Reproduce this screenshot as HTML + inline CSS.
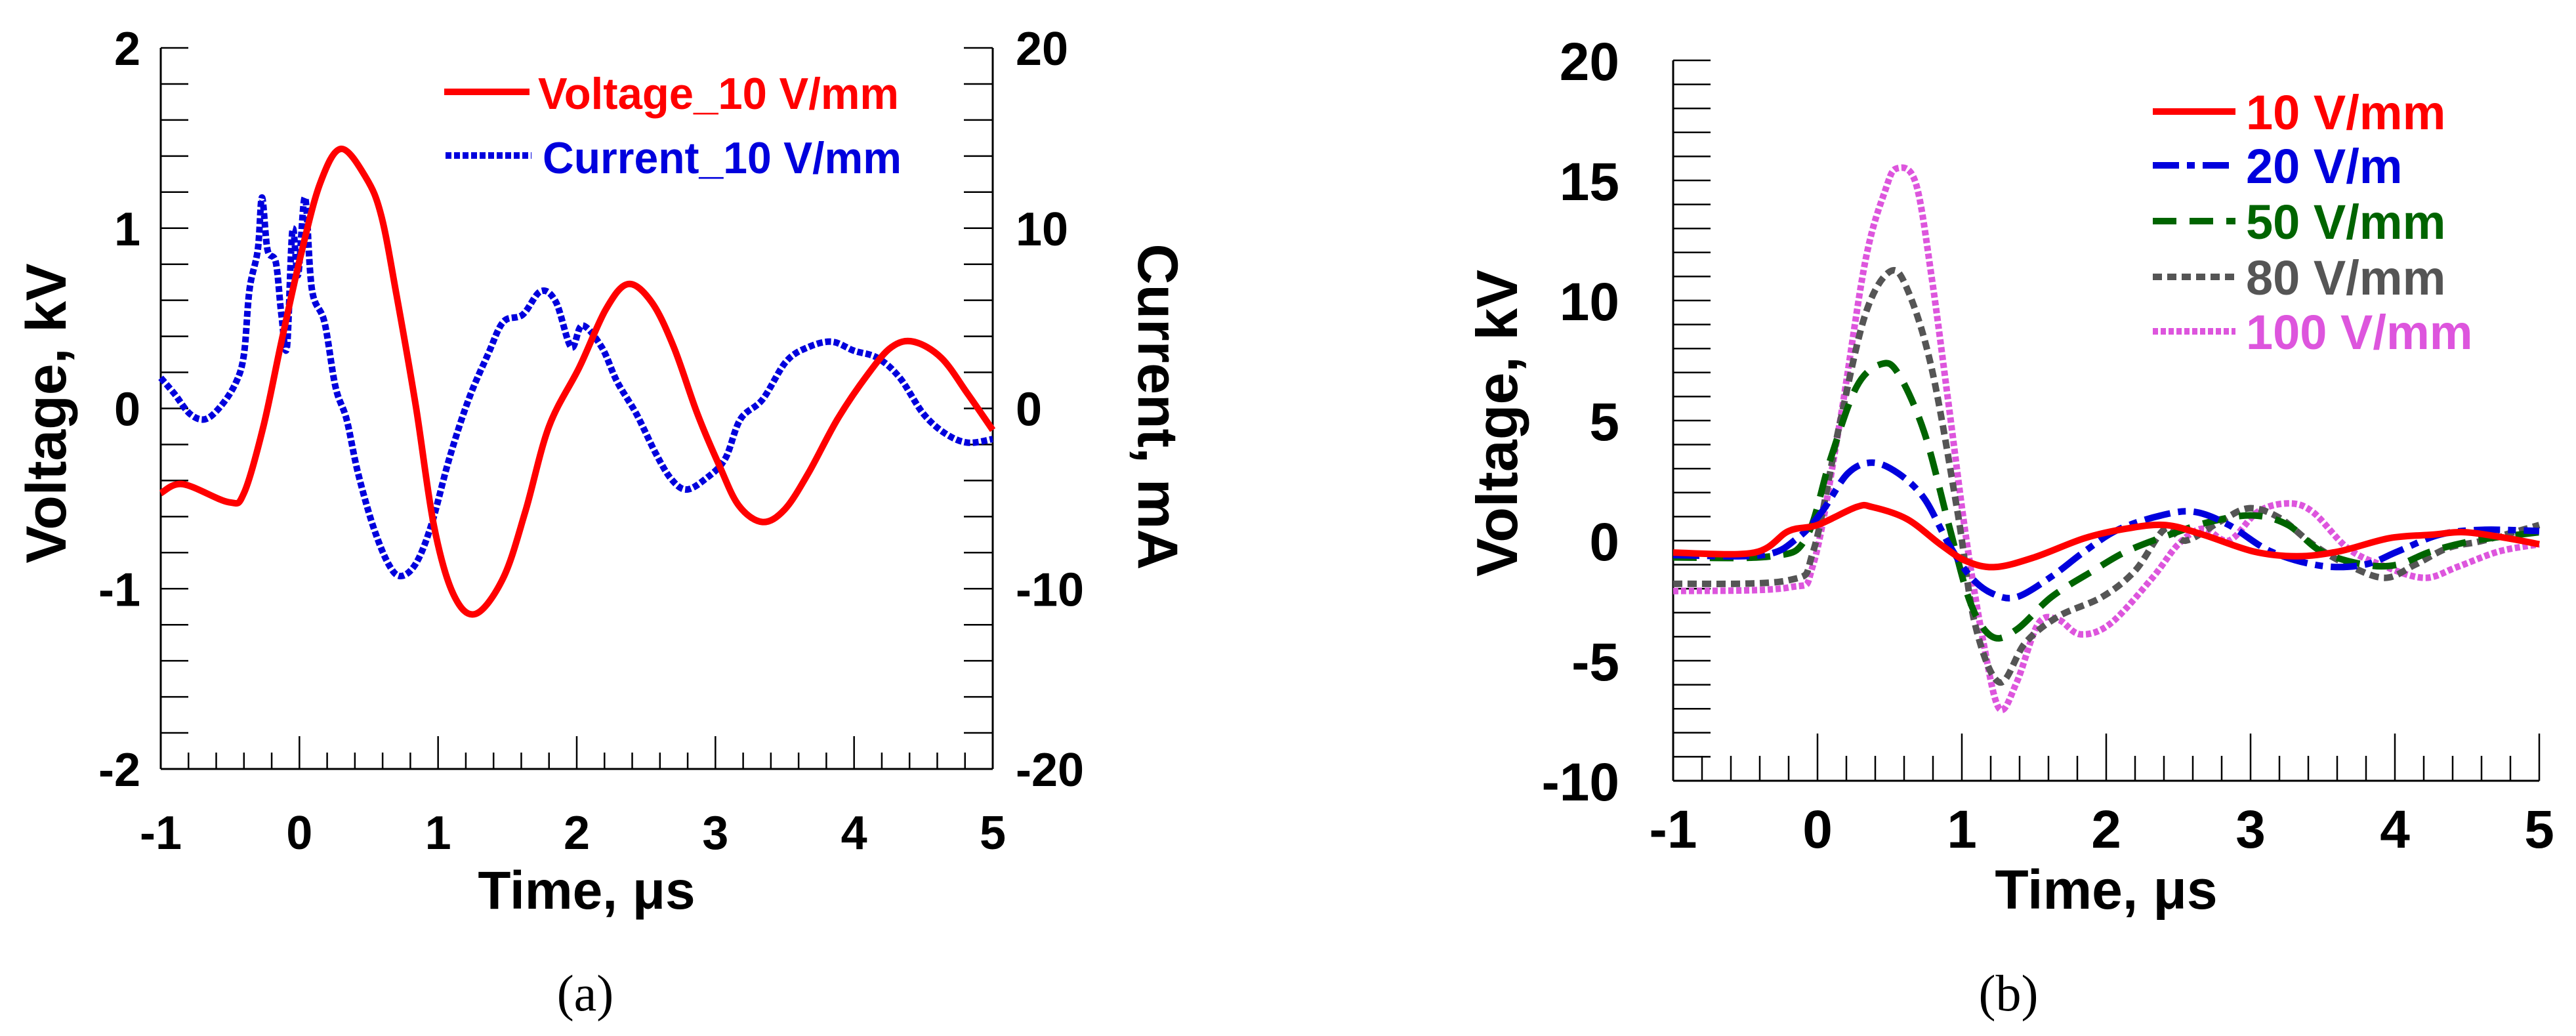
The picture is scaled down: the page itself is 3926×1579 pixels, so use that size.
<!DOCTYPE html>
<html><head><meta charset="utf-8"><style>
html,body{margin:0;padding:0;background:#fff;}
svg{display:block;font-family:"Liberation Sans",Arial,sans-serif;}
</style></head><body>
<svg id="fig" width="3926" height="1579" viewBox="0 0 3926 1579" xmlns="http://www.w3.org/2000/svg">
<g id="pa"></g>
<g id="pb"></g>
</svg>
<script>
// ---- Panel (a) data ----
const aVoltT=[-1,-0.84,-0.51,-0.40,-0.26,-0.13,0.01,0.15,0.30,0.48,0.59,0.70,0.84,0.97,1.11,1.27,1.47,1.63,1.80,2.02,2.21,2.37,2.54,2.70,2.87,3.03,3.17,3.34,3.50,3.67,3.88,4.10,4.27,4.43,4.63,4.82,5.0];
const aVoltV=[-0.47,-0.42,-0.52,-0.47,-0.10,0.37,0.85,1.25,1.44,1.28,1.07,0.63,0.01,-0.65,-1.03,-1.14,-0.94,-0.57,-0.10,0.23,0.55,0.69,0.59,0.34,-0.03,-0.32,-0.54,-0.63,-0.56,-0.36,-0.06,0.19,0.34,0.37,0.28,0.08,-0.12];
const aCurT=[-1,-0.90,-0.79,-0.68,-0.57,-0.46,-0.40,-0.36,-0.30,-0.27,-0.23,-0.17,-0.13,-0.09,-0.05,-0.01,0.04,0.09,0.18,0.26,0.34,0.42,0.53,0.64,0.73,0.84,0.95,1.08,1.22,1.36,1.47,1.61,1.74,1.85,1.96,2.04,2.18,2.29,2.43,2.57,2.68,2.79,2.93,3.07,3.18,3.34,3.51,3.67,3.84,4.00,4.17,4.33,4.50,4.66,4.82,5.0];
const aCurI=[1.7,0.8,-0.3,-0.6,0.1,1.4,3.0,6.6,8.8,11.7,8.8,8.1,5.2,3.4,9.9,7.4,11.7,6.6,4.8,1.2,-0.6,-3.5,-6.5,-8.6,-9.3,-8.6,-6.5,-2.8,0.5,3.0,4.8,5.2,6.5,5.9,3.4,4.6,3.4,1.5,-0.3,-2.5,-3.9,-4.5,-3.9,-2.8,-0.6,0.5,2.6,3.4,3.7,3.2,2.8,1.7,-0.3,-1.4,-1.9,-1.7];
const aXTicks=[-1,0,1,2,3,4,5];
const aYTicks=[2,1,0,-1,-2];
const aY2Ticks=[20,10,0,-10,-20];
// ---- Panel (b) data ----
const bCat=["10 V/mm","20 V/m","50 V/mm","80 V/mm","100 V/mm"];
const b10T=[-1,-0.44,-0.2,0,0.27,0.38,0.62,0.85,1.03,1.23,1.5,1.85,2.14,2.41,2.67,3.02,3.32,3.61,3.96,4.26,4.49,4.78,5];
const b10V=[-0.5,-0.5,0.4,0.65,1.4,1.4,0.9,-0.15,-0.85,-1.1,-0.7,0.1,0.5,0.65,0.25,-0.45,-0.65,-0.45,0.1,0.25,0.35,0.1,-0.15];
const b20T=[-1,-0.38,-0.14,0.03,0.21,0.38,0.56,0.74,0.91,1.06,1.21,1.38,1.62,1.85,2.08,2.38,2.61,2.85,3.14,3.49,3.79,4.02,4.31,4.61,5];
const b20V=[-0.6,-0.6,0.1,1.2,2.8,3.25,2.8,1.75,-0.15,-1.5,-2.2,-2.35,-1.5,-0.45,0.45,1.05,1.2,0.65,-0.45,-1.05,-1.0,-0.45,0.25,0.45,0.4];
const b50T=[-1,-0.32,-0.08,0.09,0.27,0.44,0.56,0.74,0.91,1.06,1.21,1.38,1.62,1.91,2.14,2.44,2.73,3.02,3.26,3.49,3.79,4.02,4.25,4.55,5];
const b50V=[-0.7,-0.65,0.1,3.4,6.4,7.35,6.95,4.5,0.65,-2.6,-4.0,-3.7,-2.35,-1.25,-0.45,0.25,0.8,1.05,0.65,-0.45,-1.0,-1.0,-0.45,0,0.35];
const b80T=[-1,-0.2,-0.03,0.15,0.33,0.5,0.62,0.79,0.97,1.09,1.26,1.44,1.67,1.97,2.2,2.41,2.55,2.79,2.99,3.2,3.43,3.67,3.93,4.14,4.37,4.61,5];
const b80V=[-1.8,-1.65,-0.45,4.75,9.4,11.2,10.5,7.2,1.2,-3.45,-5.9,-4.25,-3.15,-2.35,-1.25,0.5,0,0.8,1.35,0.95,-0.15,-1.0,-1.55,-1.0,-0.3,0,0.65];
const b100T=[-1,-0.2,-0.03,0.15,0.33,0.47,0.55,0.68,0.79,0.91,1.03,1.15,1.26,1.38,1.53,1.67,1.82,2.03,2.32,2.5,2.67,2.85,3.05,3.26,3.43,3.67,3.9,4.2,4.43,4.72,5];
const b100V=[-2.1,-1.95,-1.0,4.75,11.6,14.6,15.5,14.9,11.0,5.6,0.1,-4.25,-7.0,-5.9,-3.45,-3.3,-3.9,-3.45,-1.55,-0.15,0.5,0,1.2,1.55,1.2,-0.3,-1.0,-1.55,-1.1,-0.45,-0.15];
const bXTicks=[-1,0,1,2,3,4,5];
const bYTicks=[20,15,10,5,0,-5,-10];

const NS="http://www.w3.org/2000/svg";
function mk(parent,tag,attrs){const e=document.createElementNS(NS,tag);for(const k in attrs)e.setAttribute(k,attrs[k]);parent.appendChild(e);return e;}
function path(xs,ys,sx,sy){
  const p=xs.map((t,i)=>[sx(t),sy(ys[i])]);
  let d="M"+p[0][0].toFixed(1)+","+p[0][1].toFixed(1);
  for(let i=0;i<p.length-1;i++){
    const p0=p[Math.max(0,i-1)],p1=p[i],p2=p[i+1],p3=p[Math.min(p.length-1,i+2)];
    const c1x=p1[0]+(p2[0]-p0[0])/6,c1y=p1[1]+(p2[1]-p0[1])/6;
    const c2x=p2[0]-(p3[0]-p1[0])/6,c2y=p2[1]-(p3[1]-p1[1])/6;
    d+="C"+c1x.toFixed(1)+","+c1y.toFixed(1)+" "+c2x.toFixed(1)+","+c2y.toFixed(1)+" "+p2[0].toFixed(1)+","+p2[1].toFixed(1);
  }
  return d;
}

// ===== Panel A =====
const pa=document.getElementById('pa');
const aL=245,aR=1513,aT=73,aB=1172;
const ax=t=>aL+(t+1)/6*(aR-aL);
const ay=v=>aT+(2-v)/4*(aB-aT);
const ay2=c=>aT+(20-c)/40*(aB-aT);
let e;
e=mk(pa,'line',{x1:aL,y1:aT,x2:aL,y2:aB,stroke:'#000','stroke-width':3});


e=mk(pa,'line',{x1:aR,y1:aT,x2:aR,y2:aB,stroke:'#000','stroke-width':3});


e=mk(pa,'line',{x1:aL,y1:aB,x2:aR,y2:aB,stroke:'#000','stroke-width':3});


for(let i=0;i<=20;i++){const y=aT+i*(aB-aT)/20;
  mk(pa,'line',{x1:aL,y1:y,x2:aL+42,y2:y,stroke:'#000','stroke-width':2.5});
  mk(pa,'line',{x1:aR-44,y1:y,x2:aR,y2:y,stroke:'#000','stroke-width':2.5});}
for(let i=0;i<=30;i++){const x=aL+i*(aR-aL)/30;const maj=i%5===0;
  mk(pa,'line',{x1:x,y1:aB,x2:x,y2:aB-(maj?50:25),stroke:'#000','stroke-width':2.5});}
aYTicks.forEach(v=>{e=mk(pa,'text',{x:214,y:ay(v)+26,'text-anchor':'end','font-size':72,'font-weight':'bold'});e.textContent=v;
 
 });
aY2Ticks.forEach(v=>{e=mk(pa,'text',{x:1548,y:ay2(v)+26,'font-size':72,'font-weight':'bold'});e.textContent=v;
 
 });
aXTicks.forEach(v=>{e=mk(pa,'text',{x:ax(v),y:1294,'text-anchor':'middle','font-size':72,'font-weight':'bold'});e.textContent=v;
 
 });
e=mk(pa,'text',{x:894,y:1385,'text-anchor':'middle','font-size':82,'font-weight':'bold'});e.textContent='Time, μs';


e=mk(pa,'text',{x:0,y:0,'text-anchor':'middle','font-size':86,'font-weight':'bold',transform:'translate(100,630) rotate(-90)'});e.textContent='Voltage, kV';


e=mk(pa,'text',{x:0,y:0,'text-anchor':'middle','font-size':86,'font-weight':'bold',transform:'translate(1735,620) rotate(90)'});e.textContent='Current, mA';


e=mk(pa,'text',{x:892,y:1540,'text-anchor':'middle','font-size':78,'font-family':'Liberation Serif, serif'});e.textContent='(a)';


e=mk(pa,'path',{d:path(aCurT,aCurI,ax,ay2),fill:'none',stroke:'#0000dd','stroke-width':10,'stroke-dasharray':'9 4'});


e=mk(pa,'path',{d:path(aVoltT,aVoltV,ax,ay),fill:'none',stroke:'#ff0000','stroke-width':10,'stroke-linejoin':'round'});


e=mk(pa,'line',{x1:677,y1:140,x2:807,y2:140,stroke:'#ff0000','stroke-width':10});


e=mk(pa,'text',{x:820,y:166,'font-size':68,'font-weight':'bold',fill:'#ff0000',textLength:550,lengthAdjust:'spacingAndGlyphs'});e.textContent='Voltage_10 V/mm';


e=mk(pa,'line',{x1:679,y1:237,x2:810,y2:237,stroke:'#0000dd','stroke-width':10,'stroke-dasharray':'9 4'});


e=mk(pa,'text',{x:827,y:264,'font-size':68,'font-weight':'bold',fill:'#0000dd',textLength:547,lengthAdjust:'spacingAndGlyphs'});e.textContent='Current_10 V/mm';



// ===== Panel B =====
const pb=document.getElementById('pb');
const bL=2550,bR=3870,bT=92,bB=1190;
const bx=t=>bL+(t+1)/6*(bR-bL);
const by=v=>bT+(20-v)/30*(bB-bT);
e=mk(pb,'line',{x1:bL,y1:bT,x2:bL,y2:bB,stroke:'#000','stroke-width':3});


e=mk(pb,'line',{x1:bL,y1:bB,x2:bR,y2:bB,stroke:'#000','stroke-width':3});


for(let i=0;i<=30;i++){const y=bT+i*(bB-bT)/30;mk(pb,'line',{x1:bL,y1:y,x2:bL+57,y2:y,stroke:'#000','stroke-width':2.5});}
for(let i=0;i<=30;i++){const x=bL+i*(bR-bL)/30;const maj=i%5===0;
  mk(pb,'line',{x1:x,y1:bB,x2:x,y2:bB-(maj?72:38),stroke:'#000','stroke-width':2.5});}
bYTicks.forEach(v=>{e=mk(pb,'text',{x:2468,y:by(v)+30,'text-anchor':'end','font-size':82,'font-weight':'bold'});e.textContent=v;
 
 });
bXTicks.forEach(v=>{e=mk(pb,'text',{x:bx(v),y:1292,'text-anchor':'middle','font-size':82,'font-weight':'bold'});e.textContent=v;
 
 });
e=mk(pb,'text',{x:3210,y:1385,'text-anchor':'middle','font-size':84,'font-weight':'bold'});e.textContent='Time, μs';


e=mk(pb,'text',{x:0,y:0,'text-anchor':'middle','font-size':88,'font-weight':'bold',transform:'translate(2312,645) rotate(-90)'});e.textContent='Voltage, kV';


e=mk(pb,'text',{x:3061,y:1540,'text-anchor':'middle','font-size':78,'font-family':'Liberation Serif, serif'});e.textContent='(b)';


const bSeries=[[b10T,b10V,'#ff0000','none'],[b20T,b20V,'#0000dd','40 12 12 12'],[b50T,b50V,'#006400','36 20'],[b80T,b80V,'#555555','14 8'],[b100T,b100V,'#dd55dd','8 4']];
const order=[4,3,2,1,0];
order.forEach(i=>{const s=bSeries[i];
  e=mk(pb,'path',{d:path(s[0],s[1],bx,by),fill:'none',stroke:s[2],'stroke-width':10,'stroke-dasharray':s[3]});
  
  });
const legY=[170,252,337,422,505];
bSeries.forEach((s,i)=>{
  e=mk(pb,'line',{x1:3281,y1:legY[i],x2:3407,y2:legY[i],stroke:s[2],'stroke-width':10,'stroke-dasharray':s[3]});
  
  
  e=mk(pb,'text',{x:3423,y:legY[i]+27,'font-size':74,'font-weight':'bold',fill:s[2]});e.textContent=bCat[i];
  
  });
</script>
</body></html>
